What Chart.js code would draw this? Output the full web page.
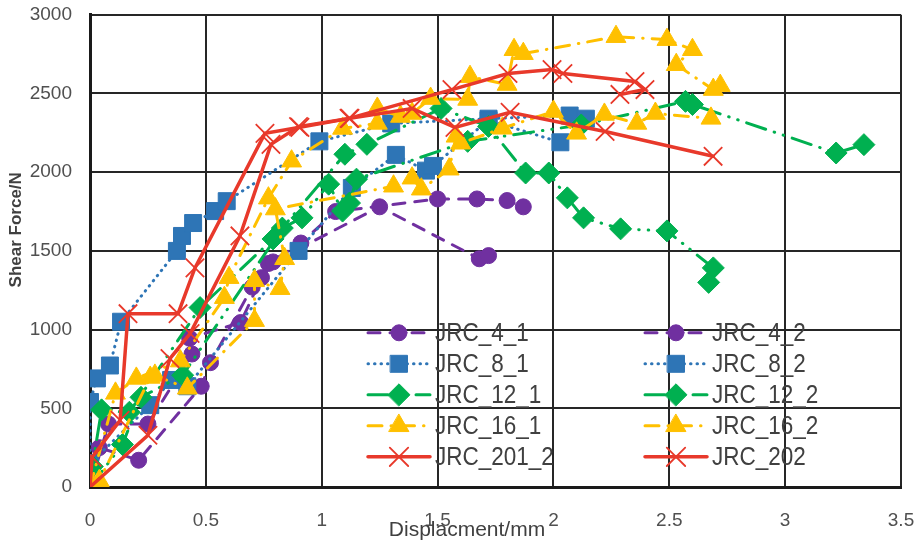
<!DOCTYPE html>
<html>
<head>
<meta charset="utf-8">
<script src="https://cdn.jsdelivr.net/npm/chart.js@4.4.1/dist/chart.umd.min.js"></script>
<style>
  html, body { margin: 0; padding: 0; background: #fff; }
  #chart { display: block; }
</style>
</head>
<body>
<canvas id="chart" width="921" height="546"></canvas>
<script>
// displacement (mm) / shear force (N)
const jrc41X = [0, 0.04, 0.21, 0.48, 0.52, 0.70, 0.77, 0.91, 1.06, 1.50, 1.67, 1.80, 1.87];
const jrc41Y = [0, 250, 170, 640, 790, 1270, 1420, 1550, 1750, 1830, 1830, 1820, 1780];

const jrc42X = [0, 0.08, 0.25, 0.44, 0.43, 0.65, 0.74, 0.79, 1.25, 1.68, 1.72];
const jrc42Y = [0, 400, 400, 845, 945, 1045, 1330, 1430, 1780, 1450, 1470];

const jrc81X = [0, 0, 0.03, 0.086, 0.134, 0.375, 0.397, 0.445, 0.54, 0.59, 0.99, 1.30, 1.72, 2.07, 2.14];
const jrc81Y = [150, 540, 690, 772, 1050, 1500, 1595, 1677, 1753, 1816, 2196, 2310, 2340, 2360, 2340];

const jrc82X = [0, 0.26, 0.35, 0.42, 0.90, 1.13, 1.32, 1.45, 1.48, 1.72, 2.03];
const jrc82Y = [150, 520, 680, 640, 1500, 1900, 2110, 2010, 2040, 2330, 2190];

const jrc121X = [0, 0.01, 0.05, 0.17, 0.475, 0.79, 1.10, 1.195, 1.515, 1.72, 1.88, 1.98, 2.06, 2.13, 2.29, 2.49, 2.69, 2.67];
const jrc121Y = [0, 130, 490, 475, 1140, 1576, 2114, 2177, 2405, 2291, 1995, 1995, 1837, 1710, 1640, 1627, 1392, 1300];

const jrc122X = [0, 0.14, 0.22, 0.40, 0.83, 0.915, 1.03, 1.09, 1.12, 1.15, 1.63, 2.12, 2.57, 2.60, 3.22, 3.34];
const jrc122Y = [0, 270, 570, 710, 1645, 1710, 1924, 1753, 1804, 1956, 2196, 2300, 2450, 2430, 2122, 2175];

const jrc161X = [0, 0.11, 0.20, 0.39, 0.58, 0.60, 0.77, 0.87, 1.09, 1.24, 1.24, 1.34, 1.39, 1.47, 1.63, 1.64, 1.80, 1.83, 1.87, 2.27, 2.49, 2.60, 2.53, 2.69, 2.72];
const jrc161Y = [0, 595, 690, 800, 1203, 1330, 1835, 2070, 2278, 2310, 2405, 2354, 2373, 2468, 2462, 2607, 2557, 2778, 2753, 2861, 2842, 2778, 2683, 2525, 2550];

const jrc162X = [0, 0.04, 0.26, 0.28, 0.42, 0.71, 0.71, 0.82, 0.84, 0.80, 1.31, 1.39, 1.43, 1.55, 1.58, 1.60, 1.78, 2.00, 2.10, 2.22, 2.36, 2.44, 2.68];
const jrc162Y = [0, 40, 696, 709, 627, 1057, 1310, 1260, 1450, 1766, 1911, 1962, 1892, 2019, 2228, 2184, 2279, 2386, 2247, 2367, 2310, 2373, 2342];

const jrc2012X = [0, 0.009, 0.13, 0.164, 0.38, 0.453, 0.755, 0.906, 1.122, 1.39, 1.575, 1.813, 2.223, 2.689];
const jrc2012Y = [0, 190, 424, 1101, 1101, 1392, 2247, 2285, 2342, 2405, 2285, 2380, 2259, 2101];

const jrc202X = [0, 0.25, 0.345, 0.432, 0.647, 0.781, 0.90, 1.118, 1.562, 1.804, 1.994, 2.041, 2.352, 2.395, 2.287];
const jrc202Y = [0, 329, 816, 975, 1595, 2177, 2290, 2342, 2525, 2627, 2652, 2627, 2576, 2525, 2494];

const xTicks = [0, 0.5, 1, 1.5, 2, 2.5, 3, 3.5];
const yTicks = [0, 500, 1000, 1500, 2000, 2500, 3000];

const purple = '#7030A0';
const blue = '#2E75B6';
const green = '#00B050';
const yellow = '#FFC000';
const red = '#E8392B';

const toPoints = (xs, ys) => xs.map((x, i) => ({ x: x, y: ys[i] }));

// line look per material group
const looks = {
  purple: { color: purple, pointStyle: 'circle', pointRadius: 8, borderDash: [12, 10], borderWidth: 3 },
  blue: { color: blue, pointStyle: 'rect', pointRadius: 12, borderDash: [0.5, 6], borderWidth: 3 },
  green: { color: green, pointStyle: 'rectRot', pointRadius: 11, borderDash: [20, 9, 0.5, 9, 0.5, 9], borderWidth: 3 },
  yellow: { color: yellow, pointStyle: 'triangle', pointRadius: 11.5, borderDash: [14, 9, 0.5, 9], borderWidth: 3 },
  red: { color: red, pointStyle: 'crossRot', pointRadius: 13, borderDash: [], borderWidth: 3.5 }
};

function makeSeries(label, xs, ys, look, idx) {
  return {
    label: label,
    data: toPoints(xs, ys),
    showLine: true,
    borderColor: look.color,
    backgroundColor: look.color,
    borderWidth: look.borderWidth,
    borderDash: look.borderDash,
    borderCapStyle: 'round',
    pointStyle: look.pointStyle,
    pointRadius: look.pointRadius,
    pointHoverRadius: look.pointRadius,
    pointBackgroundColor: look.color,
    pointBorderColor: look.color,
    pointBorderWidth: look.pointStyle === 'crossRot' ? 1.8 : 1,
    order: 20 - idx
  };
}

const datasets = [
  makeSeries('JRC_4_1', jrc41X, jrc41Y, looks.purple, 0),
  makeSeries('JRC_4_2', jrc42X, jrc42Y, looks.purple, 1),
  makeSeries('JRC_8_1', jrc81X, jrc81Y, looks.blue, 2),
  makeSeries('JRC_8_2', jrc82X, jrc82Y, looks.blue, 3),
  makeSeries('JRC_12_1', jrc121X, jrc121Y, looks.green, 4),
  makeSeries('JRC_12_2', jrc122X, jrc122Y, looks.green, 5),
  makeSeries('JRC_16_1', jrc161X, jrc161Y, looks.yellow, 6),
  makeSeries('JRC_16_2', jrc162X, jrc162Y, looks.yellow, 7),
  makeSeries('JRC_201_2', jrc2012X, jrc2012Y, looks.red, 8),
  makeSeries('JRC_202', jrc202X, jrc202Y, looks.red, 9)
];

// two-column legend sitting inside the plot, like the Excel one
const insideLegend = {
  id: 'insideLegend',
  afterDatasetsDraw(chart) {
    const { ctx, chartArea } = chart;
    chart.data.datasets.forEach((ds, i) => {
      const col = i % 2;
      const row = Math.floor(i / 2);
      const x0 = chartArea.left + 278 + col * 277;
      const y = chartArea.top + 318 + row * 31;
      ctx.save();
      ctx.strokeStyle = ds.borderColor;
      ctx.lineWidth = ds.borderWidth;
      ctx.lineCap = 'round';
      ctx.setLineDash(ds.borderDash);
      ctx.beginPath();
      ctx.moveTo(x0, y);
      ctx.lineTo(x0 + 62, y);
      ctx.stroke();
      ctx.setLineDash([]);
      ctx.fillStyle = ds.pointBackgroundColor;
      ctx.strokeStyle = ds.pointBorderColor;
      ctx.lineWidth = ds.pointBorderWidth;
      Chart.helpers.drawPoint(ctx, {
        pointStyle: ds.pointStyle,
        radius: ds.pointRadius,
        borderWidth: ds.pointBorderWidth,
        rotation: 0
      }, x0 + 31, y);
      // narrow the text a bit, the original face is condensed
      ctx.translate(x0 + 67, y + 1);
      ctx.scale(0.9, 1);
      ctx.fillStyle = '#404040';
      ctx.font = '25px "Liberation Sans"';
      ctx.textAlign = 'left';
      ctx.textBaseline = 'middle';
      ctx.fillText(ds.label, 0, 0);
      ctx.restore();
    });
  }
};

const axisTitles = {
  id: 'axisTitles',
  afterDraw(chart) {
    const { ctx, chartArea } = chart;
    ctx.save();
    ctx.fillStyle = '#404040';
    ctx.textAlign = 'center';
    ctx.textBaseline = 'middle';
    ctx.font = '21px "Liberation Sans"';
    ctx.fillText('Displacment/mm', chartArea.left + 377, chartArea.bottom + 43);
    ctx.translate(16, chartArea.top + 215);
    ctx.rotate(-Math.PI / 2);
    ctx.font = 'bold 17px "Liberation Sans"';
    ctx.fillText('Shear Force/N', 0, 0);
    ctx.restore();
  }
};

new Chart(document.getElementById('chart'), {
  type: 'scatter',
  data: { datasets: datasets },
  options: {
    responsive: false,
    animation: false,
    layout: { padding: { top: 13, right: 20, bottom: 0, left: 0 } },
    plugins: {
      legend: { display: false },
      tooltip: { enabled: false }
    },
    scales: {
      x: {
        type: 'linear',
        min: 0,
        max: 3.5,
        afterFit(scale) {
          scale.height = 59;
          scale.paddingLeft = 0;
          scale.paddingRight = 0;
        },
        afterBuildTicks(scale) { scale.ticks = xTicks.map(v => ({ value: v })); },
        grid: { color: '#262626', lineWidth: 2, drawTicks: false },
        border: { color: '#1a1a1a', width: 3 },
        ticks: {
          padding: 22,
          color: '#505050',
          font: { family: '"Liberation Sans"', size: 19 },
          callback: v => String(v)
        }
      },
      y: {
        type: 'linear',
        min: 0,
        max: 3000,
        afterFit(scale) {
          scale.width = 90;
          scale.paddingTop = 0;
          scale.paddingBottom = 0;
        },
        afterBuildTicks(scale) { scale.ticks = yTicks.map(v => ({ value: v })); },
        grid: { color: '#262626', lineWidth: 2, drawTicks: false },
        border: { color: '#1a1a1a', width: 3 },
        ticks: {
          padding: 18,
          color: '#505050',
          font: { family: '"Liberation Sans"', size: 19 },
          callback: v => String(v)
        }
      }
    }
  },
  plugins: [insideLegend, axisTitles]
});
</script>
</body>
</html>
